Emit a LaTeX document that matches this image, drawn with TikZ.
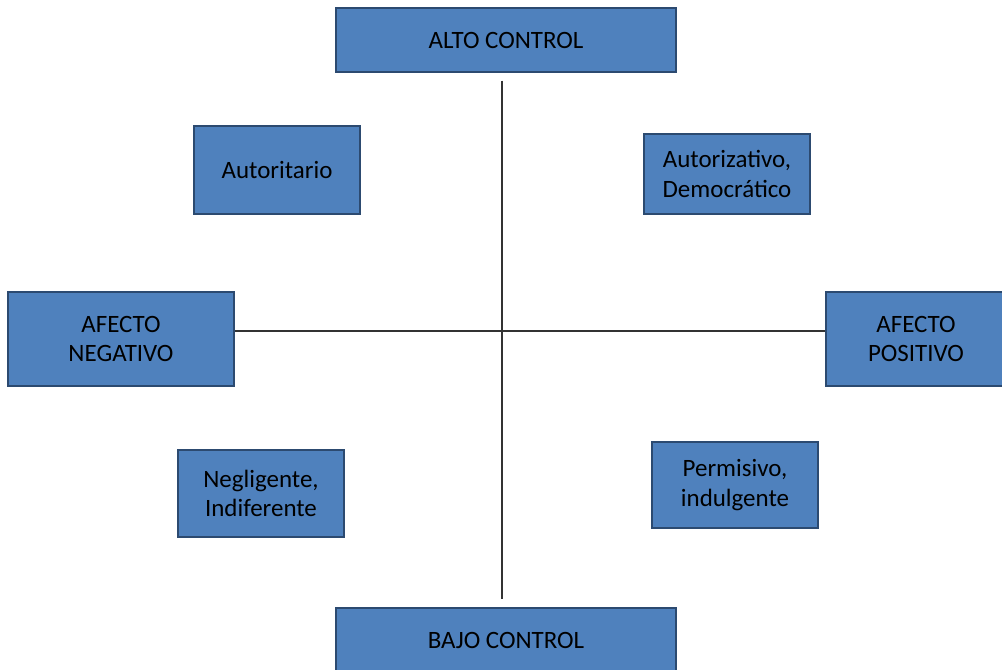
\documentclass[tikz,border=0pt]{standalone}
\usepackage{fontspec}
\setmainfont{Carlito}
\usetikzlibrary{calc}

\definecolor{boxfill}{HTML}{4F81BD}
\definecolor{boxline}{HTML}{2C4A70}

\tikzset{
  estilo/.style={draw=boxline, fill=boxfill, line width=0.7pt,
    align=center, inner sep=0pt,
    font=\fontsize{14.2}{16.6}\selectfont},
  eje/.style={draw=black!80, line width=0.6pt}
}

\begin{document}
\begin{tikzpicture}[x=0.2mm, y=-0.2mm]
    \useasboundingbox (0,0) rectangle (1002,669);
    % Extremos de los ejes
    \node[estilo, minimum width=68mm, minimum height=12.8mm] (alto) at (506,40) {ALTO CONTROL};
    \node[estilo, minimum width=68mm, minimum height=12.8mm] (bajo) at (506,640) {BAJO CONTROL};
    \node[estilo, minimum width=45.2mm, minimum height=18.8mm] (neg) at (121,339) {AFECTO\\NEGATIVO};
    \node[estilo, minimum width=36mm, minimum height=18.8mm] (pos) at (916,339) {AFECTO\\POSITIVO};
    % Estilos en cada cuadrante
    \node[estilo, minimum width=33.2mm, minimum height=17.6mm] (autoritario) at (277,170) {Autoritario};
    \node[estilo, minimum width=33.2mm, minimum height=16mm] (autorizativo) at (727,174) {Autorizativo,\\Democrático};
    \node[estilo, minimum width=33.2mm, minimum height=17.4mm] (negligente) at (261,493.5) {Negligente,\\Indiferente};
    \node[estilo, minimum width=33.2mm, minimum height=17.2mm] (permisivo) at (735,485) {Permisivo,\\indulgente};
    % Ejes
    \coordinate (c) at (502,331);
    \draw[eje] ($(c |- alto.south)+(0,8)$) -- ($(c |- bajo.north)+(0,-8)$);
    \draw[eje] (c -| neg.east) -- (c -| pos.west);
\end{tikzpicture}
\end{document}
